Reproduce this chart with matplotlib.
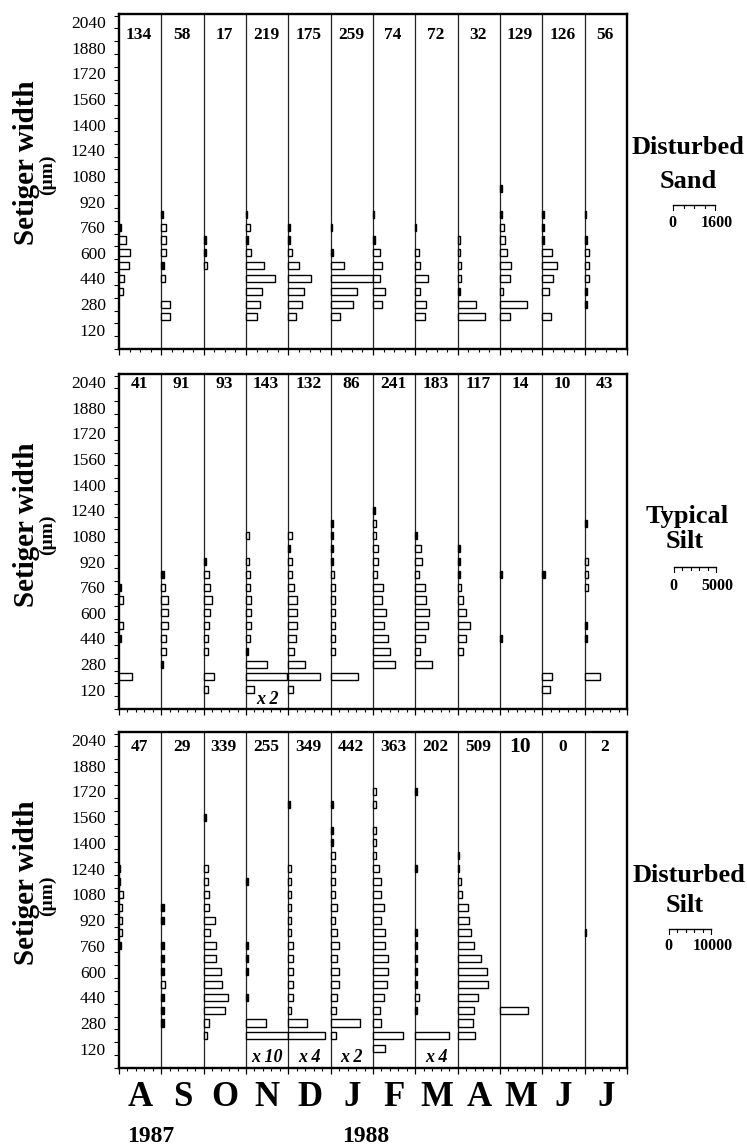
import matplotlib
matplotlib.use('Agg')
import matplotlib.pyplot as plt
from matplotlib.lines import Line2D
import numpy as np

plt.rcParams['font.family'] = ['Liberation Serif', 'DejaVu Serif']

# ---------------- data ----------------
months = ['A', 'S', 'O', 'N', 'D', 'J', 'F', 'M', 'A', 'M', 'J', 'J']
years = ['1987', '1988']
width_labels = [120, 280, 440, 600, 760, 920, 1080, 1240, 1400, 1560, 1720, 1880, 2040]
bin_step = 80  # setiger width class (µm)

# Disturbed Sand: sample sizes and density per width class (bin centre -> density)
sand_n = [134, 58, 17, 219, 175, 259, 74, 72, 32, 129, 126, 56]
sand_hist = [
    {760: 60, 680: 260, 600: 430, 520: 390, 440: 200, 360: 150},
    {840: 60, 760: 175, 680: 175, 600: 175, 520: 90, 440: 125, 280: 340, 200: 340},
    {680: 90, 600: 90, 520: 140},
    {840: 40, 760: 150, 680: 90, 600: 190, 520: 680, 440: 1100, 360: 615, 280: 515, 200: 400},
    {760: 75, 680: 75, 600: 150, 520: 415, 440: 840, 360: 580, 280: 515, 200: 290},
    {760: 65, 600: 75, 520: 490, 440: 1610, 360: 980, 280: 830, 200: 340},
    {840: 30, 680: 75, 600: 250, 520: 340, 440: 275, 360: 450, 280: 340},
    {760: 30, 600: 150, 520: 190, 440: 465, 360: 190, 280: 400, 200: 350},
    {680: 100, 600: 100, 520: 140, 440: 140, 360: 75, 280: 700, 200: 1040},
    {1000: 75, 840: 75, 760: 150, 680: 175, 600: 275, 520: 425, 440: 390, 360: 100, 280: 1030, 200: 390},
    {840: 75, 760: 75, 680: 75, 600: 350, 520: 540, 440: 390, 360: 240, 200: 340},
    {840: 40, 680: 90, 600: 165, 520: 165, 440: 165, 360: 75, 280: 75},
]
sand_scale = 1600

# Typical Silt
typ_n = [41, 91, 93, 143, 132, 86, 241, 183, 117, 14, 10, 43]
typ_hist = [
    {760: 235, 680: 510, 520: 510, 440: 275, 200: 1500},
    {840: 275, 760: 430, 680: 745, 600: 745, 520: 745, 440: 590, 360: 590, 280: 200},
    {920: 275, 840: 590, 760: 745, 680: 945, 600: 745, 520: 590, 440: 470, 360: 470, 200: 1260, 120: 470},
    {1080: 315, 920: 315, 840: 470, 760: 470, 680: 590, 600: 590, 520: 590, 440: 470, 360: 275,
     280: 2480, 200: 4840, 120: 905},
    {1080: 390, 1000: 235, 920: 390, 840: 390, 760: 630, 680: 980, 600: 980, 520: 980, 440: 865,
     360: 670, 280: 1925, 200: 3775, 120: 590},
    {1160: 235, 1080: 235, 1000: 235, 920: 235, 840: 390, 760: 470, 680: 550, 600: 470, 520: 550,
     440: 550, 360: 550, 200: 3265},
    {1240: 275, 1160: 390, 1080: 390, 1000: 550, 920: 630, 840: 470, 760: 1140, 680: 1060, 600: 1570,
     520: 1260, 440: 1770, 360: 2045, 280: 2555},
    {1080: 235, 1000: 670, 920: 785, 840: 430, 760: 1180, 680: 1300, 600: 1610, 520: 1455, 440: 1140,
     360: 590, 280: 1925},
    {1000: 275, 920: 275, 840: 275, 760: 430, 680: 630, 600: 980, 520: 1415, 440: 980, 360: 590},
    {840: 235, 440: 275},
    {840: 275, 200: 1100, 120: 945},
    {1160: 275, 920: 350, 840: 350, 760: 430, 520: 235, 440: 235, 200: 1770},
]
typ_scale = 5000
typ_mult = {3: 'x 2'}

# Disturbed Silt
dsilt_n = [47, 29, 339, 255, 349, 442, 363, 202, 509, 10, 0, 2]
dsilt_hist = [
    {1240: 310, 1160: 310, 1080: 870, 1000: 785, 920: 785, 840: 785, 760: 470},
    {1000: 550, 920: 550, 760: 550, 680: 550, 600: 550, 520: 865, 440: 550, 360: 550, 280: 550},
    {1560: 550, 1240: 945, 1160: 945, 1080: 1260, 1000: 1180, 920: 2600, 840: 1570, 760: 2990,
     680: 2990, 600: 4010, 520: 4330, 440: 5820, 360: 5035, 280: 1340, 200: 710},
    {1160: 390, 760: 390, 680: 390, 600: 390, 440: 390, 280: 4720, 200: 10000},
    {1640: 390, 1240: 630, 1160: 630, 1080: 630, 1000: 630, 920: 630, 840: 630, 760: 1100, 680: 1100,
     600: 1100, 520: 1100, 440: 1100, 360: 630, 280: 4400, 200: 8700},
    {1640: 470, 1480: 470, 1400: 470, 1320: 945, 1240: 945, 1160: 1100, 1080: 1100, 1000: 1570,
     920: 1100, 840: 1415, 760: 2045, 680: 1570, 600: 2045, 520: 2045, 440: 1570, 360: 1260,
     280: 6920, 200: 1260},
    {1720: 630, 1640: 630, 1480: 785, 1400: 785, 1320: 785, 1240: 1415, 1160: 1810, 1080: 1810,
     1000: 2520, 920: 1810, 840: 2750, 760: 2830, 680: 3540, 600: 3540, 520: 3225, 440: 2600,
     360: 1570, 280: 1965, 200: 7080, 120: 2910},
    {1720: 315, 1240: 470, 840: 470, 760: 470, 680: 470, 600: 470, 520: 470, 440: 865, 360: 470,
     200: 7950},
    {1320: 390, 1240: 390, 1160: 785, 1080: 1020, 1000: 2360, 920: 2750, 840: 3150, 760: 3775,
     680: 5500, 600: 6840, 520: 7160, 440: 4800, 360: 3775, 280: 3540, 200: 4170},
    {360: 6530},
    {},
    {840: 236},
]
dsilt_scale = 10000
dsilt_mult = {3: 'x 10', 4: 'x 4', 5: 'x 2', 7: 'x 4'}

# ---------------- layout ----------------
W, H = 747, 1147
fig = plt.figure(figsize=(W / 100, H / 100), dpi=100)


def fx(x):
    return x / W


def fy(y):
    return 1 - y / H


def axpos(l, t, r, b):
    return [l / W, 1 - b / H, (r - l) / W, (b - t) / H]


AX_L, AX_R = 119, 627
panels = [
    dict(n=sand_n, hist=sand_hist, scale=sand_scale, sub=4, mult={}, top=14, bot=349,
         ny=35, title=['Disturbed', 'Sand'], ty=[147, 181], tx=[688, 688], bar_y=205, bar_x=673,
         lab_y=223, ylab=163, mu=175),
    dict(n=typ_n, hist=typ_hist, scale=typ_scale, sub=5, mult=typ_mult, top=374, bot=709,
         ny=384, title=['Typical', 'Silt'], ty=[517, 542], tx=[687, 685], bar_y=567, bar_x=674,
         lab_y=586, ylab=525, mu=535),
    dict(n=dsilt_n, hist=dsilt_hist, scale=dsilt_scale, sub=5, mult=dsilt_mult, top=732, bot=1068,
         ny=747, title=['Disturbed', 'Silt'], ty=[875, 905], tx=[689, 685], bar_y=929, bar_x=669,
         lab_y=946, ylab=883, mu=896),
]

ncol = len(months)
colw_px = (AX_R - AX_L) / ncol
bar_h = 44
ytop = 2090

for pi, p in enumerate(panels):
    ax = fig.add_axes(axpos(AX_L, p['top'], AX_R, p['bot']))
    cw = p['scale']
    for i, h in enumerate(p['hist']):
        if h:
            vals = list(h.values())
            fills = ['black' if v / cw * colw_px < 2.6 else 'white' for v in vals]
            ax.barh(list(h.keys()), vals, left=i * cw, height=bar_h,
                    color=fills, edgecolor='black', linewidth=1.0, zorder=3)
    for i in range(1, ncol):
        ax.axvline(i * cw, color='#222222', lw=0.9, zorder=2)
    ax.set_xlim(0, ncol * cw)
    ax.set_ylim(0, ytop)
    for s in ax.spines.values():
        s.set_linewidth(1.7)
    # y ticks: labels at class centres, tick marks at class edges
    ax.set_yticks(width_labels)
    ax.set_yticklabels([str(v) for v in width_labels])
    ax.set_yticks(np.arange(0, ytop, bin_step), minor=True)
    ax.tick_params(axis='y', which='major', length=0, pad=9.5, labelsize=12.5)
    ax.tick_params(axis='y', which='minor', length=3.5, width=0.8, direction='out')
    # x ticks: column edges + scale subdivisions
    ax.set_xticks(np.arange(0, ncol * cw + 1, cw))
    ax.set_xticks(np.arange(0, ncol * cw + 1, cw / p['sub']), minor=True)
    ax.tick_params(axis='x', which='major', length=4.5, width=0.9, labelbottom=False)
    ax.tick_params(axis='x', which='minor', length=2.5, width=0.8)

    # sample sizes at top of each column
    for i, n in enumerate(p['n']):
        size = 12.5
        if pi == 2 and i == 9:
            size = 15.5
        fig.text(fx(AX_L + (i + 0.5) * colw_px - 1), fy(p['ny']), str(n), ha='center', va='center',
                 fontsize=size, fontweight='bold')
    # multiplier labels
    for i, t in p['mult'].items():
        yy = p['bot'] - (9 if pi == 1 else 10)
        fig.text(fx(AX_L + (i + 0.5) * colw_px), fy(yy), t, ha='center', va='center',
                 fontsize=13, fontweight='bold', style='italic')

    # y-axis label
    fig.text(fx(27), fy(p['ylab']), 'Setiger width', rotation=90, ha='center', va='center',
             fontsize=21, fontweight='bold')
    fig.text(fx(47), fy(p['mu']), '(µm)', rotation=90, ha='center', va='center',
             fontsize=14, fontweight='bold')

    # habitat titles
    for t, yy, xx in zip(p['title'], p['ty'], p['tx']):
        fig.text(fx(xx), fy(yy), t, ha='center', va='center', fontsize=19, fontweight='bold')

    # scale bar
    x0 = p['bar_x']
    x1 = x0 + colw_px
    yb = p['bar_y']
    fig.add_artist(Line2D([fx(x0), fx(x1)], [fy(yb), fy(yb)], color='black', lw=1.0,
                          transform=fig.transFigure))
    for k in range(p['sub'] + 1):
        xt = x0 + k * colw_px / p['sub']
        ln = 5 if k in (0, p['sub']) else 3
        fig.add_artist(Line2D([fx(xt), fx(xt)], [fy(yb), fy(yb + ln)], color='black', lw=0.8,
                              transform=fig.transFigure))
    fig.text(fx(x0 - 1), fy(p['lab_y']), '0', ha='center', va='center', fontsize=11.5,
             fontweight='bold')
    fig.text(fx(x1 + 1), fy(p['lab_y']), str(p['scale']), ha='center', va='center', fontsize=11.5,
             fontweight='bold')

# month labels and years
for i, m in enumerate(months):
    fig.text(fx(AX_L + (i + 0.5) * colw_px), fy(1098), m, ha='center', va='center',
             fontsize=25, fontweight='bold')
fig.text(fx(151), fy(1136), years[0], ha='center', va='center', fontsize=17, fontweight='bold')
fig.text(fx(366), fy(1136), years[1], ha='center', va='center', fontsize=17, fontweight='bold')

fig.savefig('out.png', dpi=100, facecolor='white')
